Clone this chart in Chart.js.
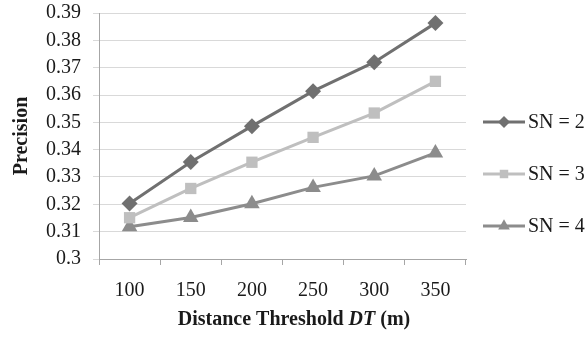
<!DOCTYPE html>
<html>
<head>
<meta charset="utf-8">
<script src="https://cdn.jsdelivr.net/npm/chart.js@4"></script>
<style>
  html, body { margin: 0; padding: 0; background: #fff; }
  #wrap { width: 586px; height: 343px; }
</style>
</head>
<body>
<div id="wrap"><canvas id="chart"></canvas></div>
<script>
// data
const distances = ['100', '150', '200', '250', '300', '350'];
const sn2 = [0.3203, 0.3355, 0.3486, 0.3614, 0.3720, 0.3863];
const sn3 = [0.3151, 0.3258, 0.3354, 0.3445, 0.3534, 0.3650];
const sn4 = [0.3118, 0.3152, 0.3202, 0.3262, 0.3304, 0.3388];
const seriesNames = ['SN = 2', 'SN = 3', 'SN = 4'];
const yTicks = [0.3, 0.31, 0.32, 0.33, 0.34, 0.35, 0.36, 0.37, 0.38, 0.39];

const serif = "'Liberation Serif', 'Times New Roman', serif";

// legend drawn with line + marker, like the original
const sideLegend = {
  id: 'sideLegend',
  afterDraw(chart) {
    const ctx = chart.ctx;
    const rows = [122, 174, 226];
    chart.data.datasets.forEach((ds, i) => {
      const y = rows[i];
      ctx.save();
      ctx.strokeStyle = ds.borderColor;
      ctx.lineWidth = 3;
      ctx.beginPath();
      ctx.moveTo(483, y);
      ctx.lineTo(525, y);
      ctx.stroke();
      ctx.fillStyle = ds.borderColor;
      Chart.helpers.drawPoint(ctx, {
        pointStyle: ds.pointStyle,
        radius: ds.pointRadius * 0.75,
        rotation: ds.pointRotation || 0,
        borderWidth: 0
      }, 504, y);
      ctx.fillStyle = '#1a1a1a';
      ctx.font = '20px ' + serif;
      ctx.textBaseline = 'middle';
      ctx.textAlign = 'left';
      ctx.fillText(seriesNames[i], 528, y + 1);
      ctx.restore();
    });

    // x axis title with italic DT
    const parts = [
      ['bold 20px ' + serif, 'Distance Threshold '],
      ['italic bold 20px ' + serif, 'DT'],
      ['bold 20px ' + serif, ' (m)']
    ];
    let total = 0;
    parts.forEach(p => { ctx.font = p[0]; total += ctx.measureText(p[1]).width; });
    let x = 294 - total / 2;
    ctx.save();
    ctx.fillStyle = '#1a1a1a';
    ctx.textBaseline = 'alphabetic';
    ctx.textAlign = 'left';
    parts.forEach(p => {
      ctx.font = p[0];
      ctx.fillText(p[1], x, 325);
      x += ctx.measureText(p[1]).width;
    });
    ctx.restore();
  }
};

const ctx = document.getElementById('chart').getContext('2d');
new Chart(ctx, {
  type: 'line',
  data: {
    labels: distances,
    datasets: [
      {
        label: seriesNames[0], data: sn2,
        borderColor: '#707070', backgroundColor: '#707070',
        borderWidth: 3, pointStyle: 'rectRot', pointRadius: 8,
        pointBorderWidth: 0, tension: 0
      },
      {
        label: seriesNames[1], data: sn3,
        borderColor: '#bfbfbf', backgroundColor: '#bfbfbf',
        borderWidth: 3, pointStyle: 'rect', pointRadius: 8,
        pointBorderWidth: 0, tension: 0
      },
      {
        label: seriesNames[2], data: sn4,
        borderColor: '#8c8c8c', backgroundColor: '#8c8c8c',
        borderWidth: 3, pointStyle: 'triangle', pointRadius: 9,
        pointBorderWidth: 0, tension: 0
      }
    ]
  },
  options: {
    responsive: true,
    maintainAspectRatio: false,
    animation: false,
    layout: { padding: { top: 13, right: 120, bottom: 0, left: 0 } },
    plugins: {
      legend: { display: false },
      tooltip: { enabled: false }
    },
    scales: {
      x: {
        offset: true,
        grid: {
          display: true, drawOnChartArea: false, drawTicks: true,
          tickLength: 6, color: '#a6a6a6', offset: true
        },
        border: { color: '#a6a6a6', width: 1 },
        ticks: {
          color: '#1a1a1a', padding: 14, autoSkip: false, maxRotation: 0,
          font: { family: serif, size: 20 }
        },
        afterFit(scale) {
          scale.height = 84;
          scale.paddingLeft = 0;
          scale.paddingRight = 0;
        }
      },
      y: {
        min: 0.3, max: 0.39,
        grid: { color: '#d9d9d9', tickLength: 6, lineWidth: 1 },
        border: { color: '#a6a6a6', width: 1 },
        ticks: {
          color: '#1a1a1a', padding: 12, autoSkip: false,
          font: { family: serif, size: 20 },
          callback: v => String(Math.round(v * 100) / 100)
        },
        afterBuildTicks(scale) { scale.ticks = yTicks.map(v => ({ value: v })); },
        title: {
          display: true, text: 'Precision', color: '#1a1a1a',
          font: { family: serif, size: 20, weight: 'bold' },
          padding: { top: 10, bottom: 0 }
        },
        afterFit(scale) {
          scale.width = 99;
          scale.paddingTop = 0;
          scale.paddingBottom = 0;
        }
      }
    }
  },
  plugins: [sideLegend]
});
</script>
</body>
</html>
